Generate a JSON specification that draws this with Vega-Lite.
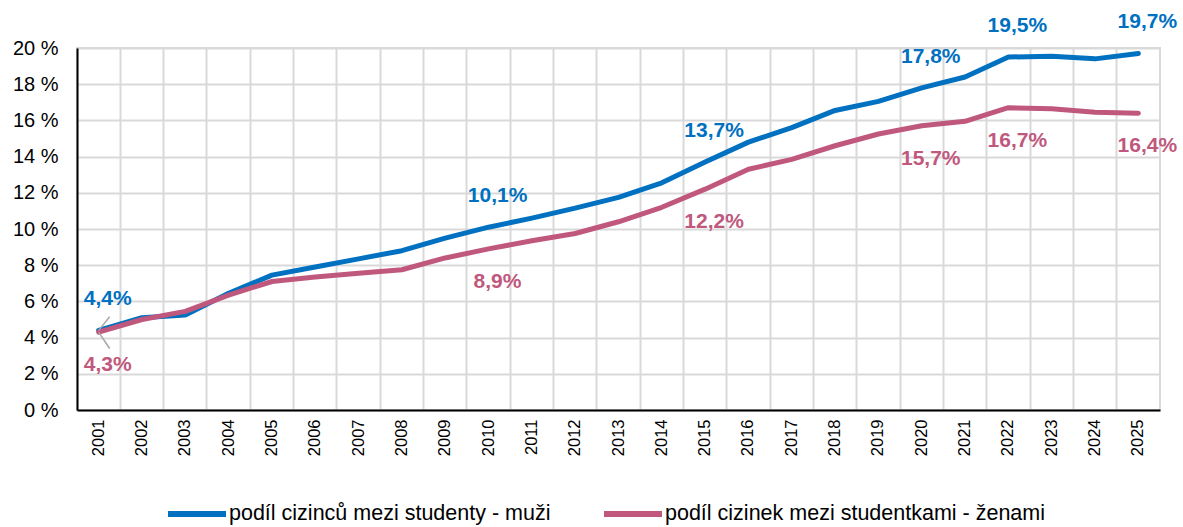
{
  "$schema": "https://vega.github.io/schema/vega-lite/v6.json",
  "width": 1083,
  "height": 362,
  "autosize": {"type": "none"},
  "padding": {"left": 77, "top": 48, "right": 23, "bottom": 117},
  "background": "white",
  "config": {
    "font": "Liberation Sans",
    "view": {"stroke": "#d9d9d9", "strokeWidth": 2},
    "axis": {"gridColor": "#d9d9d9", "gridWidth": 2, "domainColor": "#000000", "domainWidth": 2, "labelColor": "#000000", "ticks": false, "title": null}
  },
  "datasets": {
    "main": [
      {"year": "2001", "series": "podíl cizinců mezi studenty - muži", "v": 4.4},
      {"year": "2002", "series": "podíl cizinců mezi studenty - muži", "v": 5.1},
      {"year": "2003", "series": "podíl cizinců mezi studenty - muži", "v": 5.25},
      {"year": "2004", "series": "podíl cizinců mezi studenty - muži", "v": 6.45},
      {"year": "2005", "series": "podíl cizinců mezi studenty - muži", "v": 7.45},
      {"year": "2006", "series": "podíl cizinců mezi studenty - muži", "v": 7.9},
      {"year": "2007", "series": "podíl cizinců mezi studenty - muži", "v": 8.35},
      {"year": "2008", "series": "podíl cizinců mezi studenty - muži", "v": 8.8},
      {"year": "2009", "series": "podíl cizinců mezi studenty - muži", "v": 9.5},
      {"year": "2010", "series": "podíl cizinců mezi studenty - muži", "v": 10.1},
      {"year": "2011", "series": "podíl cizinců mezi studenty - muži", "v": 10.6},
      {"year": "2012", "series": "podíl cizinců mezi studenty - muži", "v": 11.15},
      {"year": "2013", "series": "podíl cizinců mezi studenty - muži", "v": 11.75},
      {"year": "2014", "series": "podíl cizinců mezi studenty - muži", "v": 12.55},
      {"year": "2015", "series": "podíl cizinců mezi studenty - muži", "v": 13.7},
      {"year": "2016", "series": "podíl cizinců mezi studenty - muži", "v": 14.8},
      {"year": "2017", "series": "podíl cizinců mezi studenty - muži", "v": 15.6},
      {"year": "2018", "series": "podíl cizinců mezi studenty - muži", "v": 16.55},
      {"year": "2019", "series": "podíl cizinců mezi studenty - muži", "v": 17.05},
      {"year": "2020", "series": "podíl cizinců mezi studenty - muži", "v": 17.8},
      {"year": "2021", "series": "podíl cizinců mezi studenty - muži", "v": 18.4},
      {"year": "2022", "series": "podíl cizinců mezi studenty - muži", "v": 19.5},
      {"year": "2023", "series": "podíl cizinců mezi studenty - muži", "v": 19.55},
      {"year": "2024", "series": "podíl cizinců mezi studenty - muži", "v": 19.4},
      {"year": "2025", "series": "podíl cizinců mezi studenty - muži", "v": 19.7},
      {"year": "2001", "series": "podíl cizinek mezi studentkami - ženami", "v": 4.3},
      {"year": "2002", "series": "podíl cizinek mezi studentkami - ženami", "v": 5.0},
      {"year": "2003", "series": "podíl cizinek mezi studentkami - ženami", "v": 5.45},
      {"year": "2004", "series": "podíl cizinek mezi studentkami - ženami", "v": 6.35},
      {"year": "2005", "series": "podíl cizinek mezi studentkami - ženami", "v": 7.1},
      {"year": "2006", "series": "podíl cizinek mezi studentkami - ženami", "v": 7.35},
      {"year": "2007", "series": "podíl cizinek mezi studentkami - ženami", "v": 7.55},
      {"year": "2008", "series": "podíl cizinek mezi studentkami - ženami", "v": 7.75},
      {"year": "2009", "series": "podíl cizinek mezi studentkami - ženami", "v": 8.4},
      {"year": "2010", "series": "podíl cizinek mezi studentkami - ženami", "v": 8.9},
      {"year": "2011", "series": "podíl cizinek mezi studentkami - ženami", "v": 9.35},
      {"year": "2012", "series": "podíl cizinek mezi studentkami - ženami", "v": 9.75},
      {"year": "2013", "series": "podíl cizinek mezi studentkami - ženami", "v": 10.4},
      {"year": "2014", "series": "podíl cizinek mezi studentkami - ženami", "v": 11.2},
      {"year": "2015", "series": "podíl cizinek mezi studentkami - ženami", "v": 12.2},
      {"year": "2016", "series": "podíl cizinek mezi studentkami - ženami", "v": 13.3},
      {"year": "2017", "series": "podíl cizinek mezi studentkami - ženami", "v": 13.85},
      {"year": "2018", "series": "podíl cizinek mezi studentkami - ženami", "v": 14.6},
      {"year": "2019", "series": "podíl cizinek mezi studentkami - ženami", "v": 15.25},
      {"year": "2020", "series": "podíl cizinek mezi studentkami - ženami", "v": 15.7},
      {"year": "2021", "series": "podíl cizinek mezi studentkami - ženami", "v": 15.95},
      {"year": "2022", "series": "podíl cizinek mezi studentkami - ženami", "v": 16.7},
      {"year": "2023", "series": "podíl cizinek mezi studentkami - ženami", "v": 16.65},
      {"year": "2024", "series": "podíl cizinek mezi studentkami - ženami", "v": 16.45},
      {"year": "2025", "series": "podíl cizinek mezi studentkami - ženami", "v": 16.4}
    ],
    "leaders": [
      {"year": "2001", "v": 4.4, "v2": 5.15},
      {"year": "2001", "v": 4.3, "v2": 3.4}
    ]
  },
  "encoding": {
    "x": {
      "field": "year", "type": "ordinal",
      "scale": {"type": "band", "paddingInner": 0, "paddingOuter": 0},
      "axis": {"bandPosition": 0, "grid": true, "labelAngle": -90, "labelFontSize": 16.5, "labelPadding": 9, "domain": true}
    },
    "y": {
      "field": "v", "type": "quantitative",
      "scale": {"domain": [0, 20], "nice": false, "zero": true},
      "axis": {"tickCount": 10, "tickMinStep": 2, "labelExpr": "datum.value + ' %'", "labelFontSize": 20, "labelPadding": 19, "grid": true, "labelOverlap": false, "labelBound": false}
    }
  },
  "layer": [
    {
      "data": {"name": "main"},
      "mark": {"type": "line", "strokeWidth": 5, "strokeCap": "round", "strokeJoin": "round"},
      "encoding": {
        "color": {
          "field": "series", "type": "nominal",
          "scale": {"domain": ["podíl cizinců mezi studenty - muži", "podíl cizinek mezi studentkami - ženami"], "range": ["#0070C0", "#C0587E"]},
          "legend": {
            "title": null, "orient": "none", "legendX": 88, "legendY": 434, "direction": "horizontal",
            "symbolType": "stroke", "symbolSize": 3364, "symbolStrokeWidth": 6, "labelFontSize": 21.5,
            "labelColor": "#000000", "labelLimit": 600, "labelOffset": 0, "columnPadding": 41, "padding": 0
          }
        }
      }
    },
    {
      "data": {"name": "leaders"},
      "mark": {"type": "rule", "color": "#a6a6a6", "strokeWidth": 1.5, "x2Offset": 11},
      "encoding": {
        "x2": {"field": "year", "bandPosition": 0.5},
        "y2": {"field": "v2"}
      }
    },
    {
      "data": {"name": "main"},
      "transform": [
        {"filter": "indexof(['2001','2010','2015','2020','2022','2025'], datum.year) >= 0 && datum.series == 'podíl cizinců mezi studenty - muži'"},
        {"calculate": "replace(format(datum.v, '.1f'), '.', ',') + '%'", "as": "lbl"}
      ],
      "mark": {"type": "text", "fontSize": 21, "fontWeight": "bold", "color": "#0070C0", "dy": -31, "dx": 9, "baseline": "middle"},
      "encoding": {
        "text": {"field": "lbl"}
      }
    },
    {
      "data": {"name": "main"},
      "transform": [
        {"filter": "indexof(['2001','2010','2015','2020','2022','2025'], datum.year) >= 0 && datum.series == 'podíl cizinek mezi studentkami - ženami'"},
        {"calculate": "replace(format(datum.v, '.1f'), '.', ',') + '%'", "as": "lbl"}
      ],
      "mark": {"type": "text", "fontSize": 21, "fontWeight": "bold", "color": "#C0587E", "dy": 33, "dx": 9, "baseline": "middle"},
      "encoding": {
        "text": {"field": "lbl"}
      }
    }
  ]
}
